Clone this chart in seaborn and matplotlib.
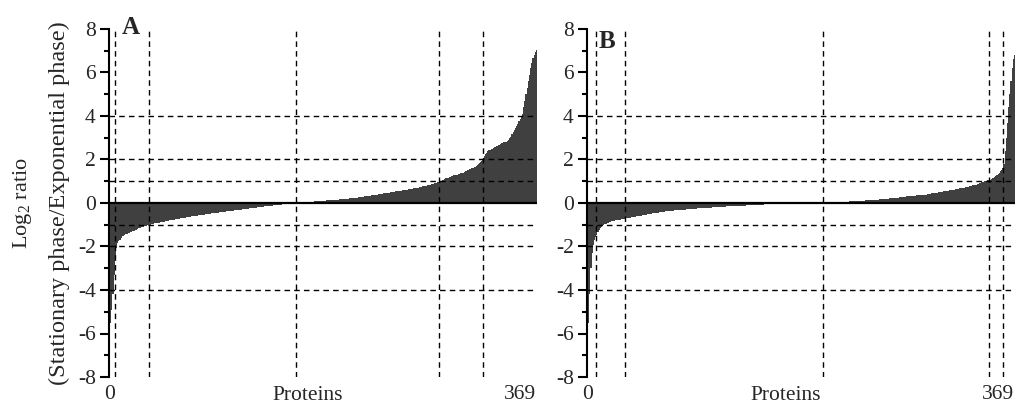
import numpy as np
import pandas as pd
import matplotlib
matplotlib.use("Agg")
import matplotlib.pyplot as plt
import seaborn as sns

# ---------------- data (sorted log2 ratios, 369 proteins per panel) ----------------
n_proteins = 369

panel_a_values = [
    -5.90, -5.50, -4.90, -4.20, -3.30, -2.50, -2.05, -1.85, -1.75, -1.68,
    -1.62, -1.54, -1.50, -1.47, -1.44, -1.42, -1.39, -1.37, -1.35, -1.32,
    -1.30, -1.27, -1.25, -1.22, -1.20, -1.17, -1.15, -1.13, -1.11, -1.09,
    -1.07, -1.05, -1.04, -1.02, -1.00, -0.99, -0.98, -0.97, -0.95, -0.94,
    -0.93,
    -0.92, -0.91, -0.90, -0.89, -0.88, -0.87, -0.86, -0.85, -0.84, -0.82,
    -0.81, -0.80, -0.79, -0.78, -0.77, -0.76, -0.75, -0.74, -0.73, -0.72,
    -0.71, -0.70, -0.69, -0.68, -0.67, -0.66, -0.66, -0.65, -0.64, -0.63,
    -0.62, -0.61, -0.60, -0.60, -0.59, -0.58, -0.57, -0.56, -0.56, -0.55,
    -0.54, -0.53, -0.52, -0.52, -0.51, -0.50, -0.49, -0.48, -0.48, -0.47,
    -0.46, -0.45, -0.45, -0.44, -0.43, -0.43, -0.42, -0.41, -0.41, -0.40,
    -0.39, -0.38, -0.38, -0.37, -0.36, -0.36, -0.35, -0.34, -0.34, -0.33,
    -0.32, -0.31, -0.31, -0.30, -0.29, -0.29, -0.28, -0.27, -0.27, -0.26,
    -0.25, -0.24, -0.24, -0.23, -0.22, -0.22, -0.21, -0.20, -0.20, -0.19,
    -0.18, -0.17, -0.17, -0.16, -0.15, -0.15, -0.14, -0.13, -0.13, -0.12,
    -0.11, -0.11, -0.10, -0.09, -0.09, -0.08, -0.07, -0.07, -0.06, -0.06,
    -0.05, -0.05, -0.04, -0.04, -0.03, -0.03, -0.02, -0.02, -0.01, -0.01,
    0.00, 0.00, 0.01, 0.01, 0.01, 0.02, 0.02, 0.02, 0.03, 0.03,
    0.04, 0.04, 0.05, 0.05, 0.06, 0.06, 0.07, 0.07, 0.08, 0.08,
    0.09, 0.09, 0.10, 0.10, 0.11, 0.11, 0.12, 0.12, 0.13, 0.13,
    0.14, 0.14, 0.15, 0.15, 0.16, 0.16, 0.16, 0.17, 0.17, 0.17,
    0.18, 0.18, 0.19, 0.19, 0.20, 0.20, 0.21, 0.21, 0.22, 0.22,
    0.23, 0.24, 0.25, 0.25, 0.26, 0.27, 0.28, 0.28, 0.29, 0.30,
    0.31, 0.32, 0.32, 0.33, 0.34, 0.35, 0.36, 0.36, 0.37, 0.38,
    0.39, 0.40, 0.41, 0.42, 0.43, 0.44, 0.45, 0.45, 0.46, 0.47,
    0.48, 0.49, 0.50, 0.51, 0.52, 0.52, 0.53, 0.54, 0.54, 0.55,
    0.56, 0.57, 0.58, 0.59, 0.60, 0.61, 0.62, 0.63, 0.64, 0.65,
    0.66, 0.67, 0.68, 0.69, 0.70, 0.71, 0.72, 0.73, 0.74, 0.76,
    0.77, 0.78, 0.80, 0.81, 0.82, 0.84, 0.85, 0.87, 0.88, 0.90,
    0.92, 0.94, 0.96, 0.98, 1.00, 1.03, 1.05, 1.08, 1.10, 1.13,
    1.15, 1.17, 1.19, 1.21, 1.23, 1.25, 1.27, 1.28, 1.29, 1.30,
    1.32, 1.34, 1.36, 1.38, 1.40, 1.43, 1.46, 1.49, 1.52, 1.55,
    1.57, 1.59, 1.60, 1.62, 1.66, 1.70, 1.74, 1.78, 1.84, 1.90,
    1.95, 2.00, 2.15, 2.25, 2.32, 2.38, 2.42, 2.44, 2.47, 2.50,
    2.53, 2.56, 2.59, 2.62, 2.65, 2.68, 2.71, 2.74, 2.77, 2.79,
    2.80, 2.82, 2.85, 2.90, 2.97, 3.05, 3.15, 3.25, 3.35, 3.45,
    3.55, 3.65, 3.75, 3.85, 3.95, 4.10, 4.40, 4.70, 5.00, 5.30,
    5.60, 5.90, 6.20, 6.45, 6.65, 6.80, 6.95, 7.05,
]

panel_b_values = [
    -6.50, -5.50, -4.20, -3.00, -2.30, -1.95, -1.70, -1.55, -1.45, -1.35,
    -1.25,
    -1.15, -1.10, -1.05, -1.01, -0.98, -0.95, -0.92, -0.90, -0.88, -0.86,
    -0.84, -0.83, -0.81, -0.80, -0.79, -0.78, -0.77, -0.76, -0.75, -0.74,
    -0.73, -0.72, -0.71, -0.70, -0.69, -0.68, -0.67, -0.66, -0.65, -0.64,
    -0.63, -0.62, -0.61, -0.60, -0.59, -0.58, -0.57, -0.56, -0.55, -0.54,
    -0.53, -0.52, -0.51, -0.50, -0.49, -0.48, -0.47, -0.46, -0.45, -0.45,
    -0.44, -0.43, -0.42, -0.42, -0.41, -0.40, -0.39, -0.39, -0.38, -0.37,
    -0.36, -0.36, -0.35, -0.35, -0.34, -0.34, -0.33, -0.33, -0.32, -0.32,
    -0.31, -0.31, -0.30, -0.30, -0.29, -0.29, -0.28, -0.28, -0.27, -0.27,
    -0.27, -0.26, -0.26, -0.26, -0.25, -0.25, -0.25, -0.24, -0.24, -0.24,
    -0.23, -0.23, -0.22, -0.22, -0.21, -0.21, -0.21, -0.20, -0.20, -0.20,
    -0.19, -0.19, -0.19, -0.18, -0.18, -0.18, -0.17, -0.17, -0.17, -0.16,
    -0.16, -0.16, -0.15, -0.15, -0.15, -0.15, -0.14, -0.14, -0.14, -0.14,
    -0.13, -0.13, -0.13, -0.12, -0.12, -0.12, -0.11, -0.11, -0.11, -0.10,
    -0.10, -0.10, -0.09, -0.09, -0.09, -0.08, -0.08, -0.08, -0.08, -0.07,
    -0.07, -0.07, -0.06, -0.06, -0.06, -0.06, -0.05, -0.05, -0.05, -0.05,
    -0.04, -0.04, -0.04, -0.04, -0.03, -0.03, -0.03, -0.03, -0.03, -0.02,
    -0.02, -0.02, -0.02, -0.02, -0.02, -0.01, -0.01, -0.01, -0.01, -0.01,
    -0.01, -0.01, -0.01, -0.01, -0.01, -0.01, -0.01, -0.01, -0.01, -0.01,
    0.00, 0.00, 0.00, 0.00, 0.00, 0.00, 0.00, 0.00, 0.00, 0.00,
    0.00, 0.00,
    0.00, 0.00, 0.01, 0.01, 0.01, 0.01, 0.02, 0.02, 0.02, 0.02,
    0.03, 0.03, 0.03, 0.04, 0.04, 0.04, 0.05, 0.05, 0.05, 0.05,
    0.06, 0.06, 0.06, 0.07, 0.07, 0.07, 0.08, 0.08, 0.08, 0.09,
    0.09, 0.09, 0.10, 0.10, 0.10, 0.11, 0.11, 0.12, 0.12, 0.12,
    0.13, 0.13, 0.14, 0.14, 0.15, 0.15, 0.15, 0.16, 0.16, 0.17,
    0.17, 0.18, 0.18, 0.19, 0.19, 0.20, 0.20, 0.21, 0.21, 0.22,
    0.22, 0.23, 0.23, 0.24, 0.25, 0.25, 0.26, 0.27, 0.27, 0.28,
    0.28, 0.29, 0.30, 0.30, 0.31, 0.32, 0.32, 0.33, 0.33, 0.34,
    0.34, 0.35, 0.35, 0.36, 0.36, 0.37, 0.37, 0.38, 0.39, 0.39,
    0.40, 0.41, 0.42, 0.43, 0.44, 0.45, 0.45, 0.46, 0.47, 0.48,
    0.49, 0.50, 0.51, 0.52, 0.53, 0.54, 0.55, 0.56, 0.57, 0.58,
    0.59, 0.60, 0.61, 0.62, 0.63, 0.64, 0.65, 0.66, 0.67, 0.68,
    0.69, 0.70, 0.71, 0.72, 0.73, 0.74, 0.76, 0.78, 0.79, 0.81,
    0.82, 0.84, 0.85, 0.87, 0.89, 0.91, 0.93, 0.96, 0.98, 1.00,
    1.02, 1.03, 1.04, 1.06, 1.08, 1.10, 1.13, 1.16, 1.20, 1.25,
    1.30, 1.35, 1.40, 1.45, 1.52, 1.60, 1.80, 2.40, 3.00, 3.70,
    4.40, 5.00, 5.60, 6.20, 6.60, 6.80,
]

# horizontal cut-off levels (log2 ratio) and protein ranks where the cut-offs are crossed
ratio_cutoffs = [-4, -2, -1, 1, 2, 4]
panel_a_cut_ranks = [5, 34, 161, 284, 322]
panel_b_cut_ranks = [7, 32, 203, 346, 358]

panel_letters = ["A", "B"]
y_ticks = [-8, -6, -4, -2, 0, 2, 4, 6, 8]
x_tick_labels = ["0", "369"]

# ---------------- style ----------------
sns.set_theme(style="white")
plt.rcParams["font.family"] = ["Liberation Serif", "DejaVu Serif"]
plt.rcParams["mathtext.fontset"] = "custom"
plt.rcParams["mathtext.rm"] = "Liberation Serif"
plt.rcParams["mathtext.it"] = "Liberation Serif:italic"
plt.rcParams["axes.unicode_minus"] = False

W, H = 1022, 403
fig = plt.figure(figsize=(W / 100, H / 100), dpi=100)
axA = fig.add_axes([109 / W, 26 / H, 428 / W, 348 / H])
axB = fig.add_axes([587 / W, 26 / H, 428 / W, 348 / H])

bar_color = "#404040"
fs = 15.5

panels = [
    (axA, panel_a_values, panel_a_cut_ranks, (0.030, 1.037)),
    (axB, panel_b_values, panel_b_cut_ranks, (0.026, 0.997)),
]

for (ax, vals, cuts, letter_pos), letter in zip(panels, panel_letters):
    df = pd.DataFrame({"protein": np.arange(n_proteins), "log2": vals})
    sns.barplot(data=df, x="protein", y="log2", color=bar_color, saturation=1,
                width=1.0, linewidth=0, errorbar=None, ax=ax, zorder=2)
    ax.set_xlim(-0.5, n_proteins - 0.5)
    ax.set_ylim(-8, 8)

    for c in ratio_cutoffs:
        ax.axhline(c, color="black", lw=1.0, ls=(0, (4, 3)), zorder=3)
    for r in cuts:
        ax.axvline(r, color="black", lw=1.0, ls=(0, (4, 3)), zorder=3)
    ax.axhline(0, color="black", lw=1.6, zorder=4)

    for s in ["top", "right", "bottom"]:
        ax.spines[s].set_visible(False)
    ax.spines["left"].set_color("black")
    ax.spines["left"].set_linewidth(1.5)
    ax.spines["left"].set_zorder(5)

    ax.set_yticks(y_ticks)
    ax.set_yticklabels([str(t) for t in y_ticks])
    ax.set_yticks(np.arange(-7, 8, 2), minor=True)
    ax.tick_params(axis="y", which="major", direction="out", length=6.5,
                   width=1.5, color="black", labelsize=fs, pad=3, left=True)
    ax.tick_params(axis="y", which="minor", direction="out", length=3.6,
                   width=1.5, color="black", left=True)

    ax.set_xticks([0, n_proteins - 1])
    ax.set_xticklabels(x_tick_labels)
    ax.tick_params(axis="x", which="both", length=0, labelsize=fs, pad=6)
    ax.get_xticklabels()[1].set_ha("right")

    ax.set_xlabel("Proteins", fontsize=fs)
    ax.xaxis.set_label_coords(0.465, -0.025)
    ax.set_ylabel("")

    ax.text(letter_pos[0], letter_pos[1], letter, transform=ax.transAxes,
            fontsize=18, fontweight="bold", ha="left", va="top", zorder=6)
    ax.grid(False)

fig.text(22 / W, 0.496, "Log$_2$ ratio", rotation=90, ha="center", va="center",
         fontsize=16)
fig.text(59 / W, 0.496, "(Stationary phase/Exponential phase)", rotation=90,
         ha="center", va="center", fontsize=17.5)

fig.savefig("out.png", dpi=100, facecolor="white")
